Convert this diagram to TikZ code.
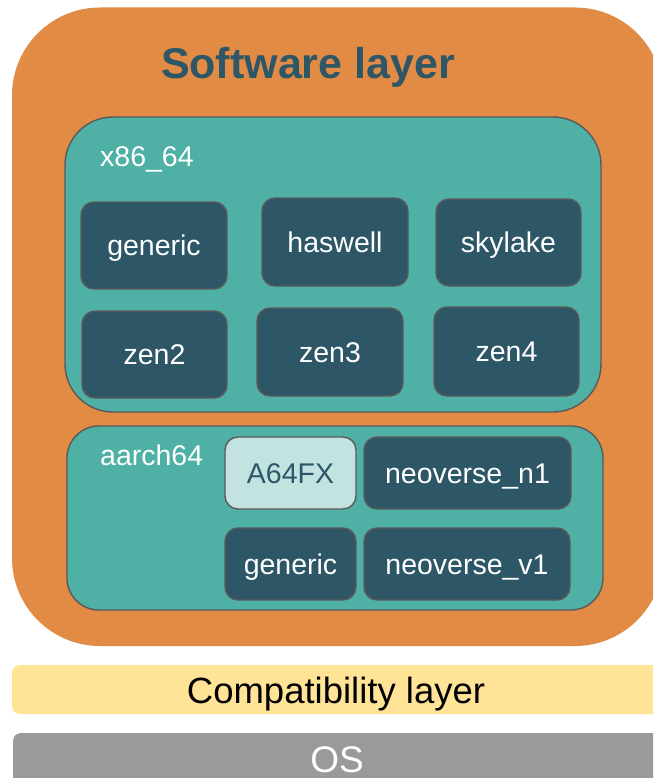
\documentclass[tikz,border=0pt]{standalone}
\usepackage{fontspec}
\setmainfont{Liberation Sans}
\definecolor{swOrange}{HTML}{E28B45}
\definecolor{archTeal}{HTML}{4FB0A6}
\definecolor{cpuDark}{HTML}{2D5667}
\definecolor{cpuLight}{HTML}{C2E3E0}
\definecolor{compatYellow}{HTML}{FFE498}
\definecolor{osGray}{HTML}{9A9A9A}
\definecolor{edgeGray}{HTML}{5A5A5A}
\tikzset{
  boxnode/.style={inner sep=0pt, outer sep=0pt, anchor=center},
  container/.style={boxnode, fill=archTeal, draw=edgeGray, line width=1.4pt},
  cpu/.style={boxnode, fill=cpuDark, draw=edgeGray, line width=1.4pt, rounded corners=13pt,
    text=white, font=\fontsize{28.5}{30}\selectfont, text height=20.5pt, text depth=0pt},
  cpulight/.style={cpu, fill=cpuLight, text=cpuDark},
  archlabel/.style={inner sep=0pt, anchor=base west, text=white, font=\fontsize{28.5}{30}\selectfont},
}
\newcommand{\cpubox}[6]{% name, x1, y1, x2, y2, text
  \node[cpu, minimum width={#4-#2}, minimum height={#5-#3}] (#1) at ({(#2+#4)/2},{(#3+#5)/2}) {#6};}
\begin{document}
\begin{tikzpicture}[x=1pt,y=-1pt]
\useasboundingbox (0,0) rectangle (653,778);
\clip (0,0) rectangle (653,778);
% software layer
\node[boxnode, fill=swOrange, rounded corners=88pt, minimum width=651pt, minimum height=638.5pt] (sw) at (337.5,326.75) {};
\node[inner sep=0pt, anchor=base, text=cpuDark, font=\fontsize{43}{45}\selectfont\bfseries] (swtitle) at (308,79) {Software layer};
% x86_64
\node[container, rounded corners=48pt, minimum width=536pt, minimum height=295pt] (x86) at (333,264.5) {};
\node[archlabel] (x86lbl) at (100,167) {x86\_64};
\cpubox{xgen}{81}{202}{227}{289}{generic}
\cpubox{xhas}{262}{198}{408}{286}{haswell}
\cpubox{xsky}{436}{199}{581}{286}{skylake}
\cpubox{xzen2}{82}{311}{227}{398}{zen2}
\cpubox{xzen3}{257}{308}{403}{396}{zen3}
\cpubox{xzen4}{434}{307}{579}{396}{zen4}
% aarch64
\node[container, rounded corners=32pt, minimum width=536pt, minimum height=184pt] (arm) at (335,518) {};
\node[archlabel] (armlbl) at (100,465) {aarch64};
\node[cpulight, minimum width=131pt, minimum height=72pt] (afx) at (290.5,473) {A64FX};
\cpubox{an1}{364}{437}{571}{509}{neoverse\_n1}
\cpubox{agen}{225}{528}{356}{600}{generic}
\cpubox{av1}{364}{528}{570}{600}{neoverse\_v1}
% compatibility layer
\node[boxnode, fill=compatYellow, rounded corners=8pt, minimum width=688pt, minimum height=49pt] (compat) at (356,689.5) {};
\node[inner sep=0pt, anchor=base, text=black, font=\fontsize{36.5}{38}\selectfont] (compatlbl) at (336,703) {Compatibility layer};
% OS
\node[boxnode, fill=osGray, rounded corners=8pt, minimum width=687pt, minimum height=80pt] (os) at (356.5,773) {};
\node[inner sep=0pt, anchor=base, text=white, font=\fontsize{37}{38}\selectfont] (oslbl) at (337,772) {OS};
\end{tikzpicture}
\end{document}
